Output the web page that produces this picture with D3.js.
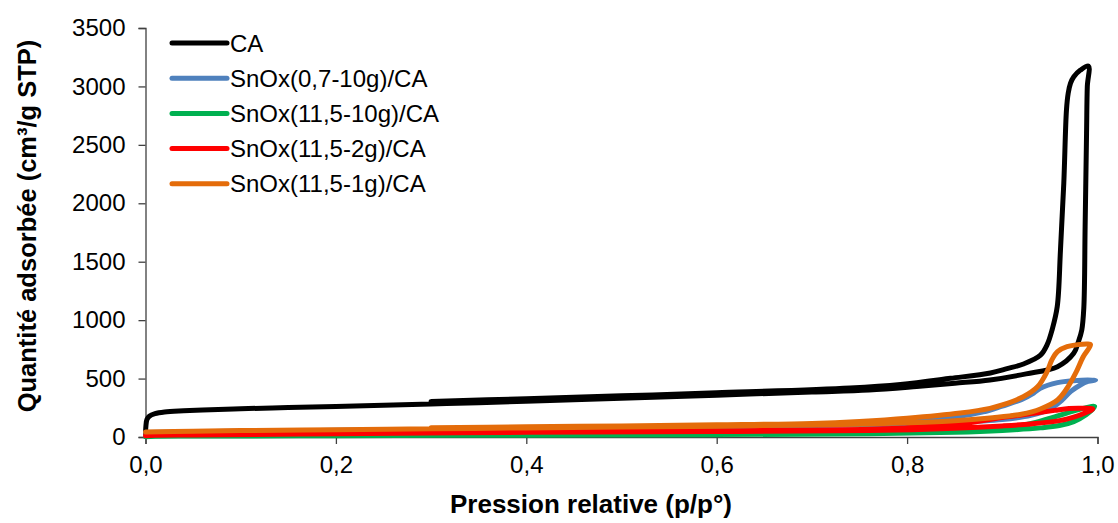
<!DOCTYPE html>
<html>
<head>
<meta charset="utf-8">
<script src="https://cdn.jsdelivr.net/npm/d3@7"></script>
<style>
  html, body { margin: 0; padding: 0; background: #fff; }
  svg { display: block; font-family: "Liberation Sans", Arial, sans-serif; }
</style>
</head>
<body>
<svg id="chart" width="1118" height="523"></svg>
<script>
// ---------- data ----------
const seriesNames = ["CA", "SnOx(0,7-10g)/CA", "SnOx(11,5-10g)/CA", "SnOx(11,5-2g)/CA", "SnOx(11,5-1g)/CA"];
const seriesColors = ["#000000", "#4F81BD", "#00B050", "#FF0000", "#E46C0A"];
const xTicks = [0, 0.2, 0.4, 0.6, 0.8, 1.0];
const yTicks = [0, 500, 1000, 1500, 2000, 2500, 3000, 3500];

// [p/p°, volume] — adsorption branch then desorption branch
const caAds = [[0,30],[0.0005,100],[0.0015,150],[0.004,178],[0.01,200],[0.02,214],[0.04,224],[0.06,231],[0.1,242],[0.15,252],[0.2,262],[0.25,272],[0.3,283],[0.35,294],[0.425,312],[0.5,332],[0.6,358],[0.7,385],[0.76,402],[0.81,432],[0.85,460],[0.887,488],[0.925,540],[0.958,602],[0.975,716],[0.98,816],[0.9835,916],[0.9856,1100],[0.987,1800],[0.9885,2600],[0.9893,3000],[0.9905,3175]];
const caDes = [[0.9905,3175],[0.9821,3140],[0.9751,3083],[0.9716,3026],[0.9692,2940],[0.9674,2798],[0.9646,2173],[0.9611,1600],[0.9577,1115],[0.9524,920],[0.9471,790],[0.9401,700],[0.9222,625],[0.905,585],[0.8875,548],[0.8455,502],[0.793,450],[0.74,420],[0.6,378],[0.5,352],[0.4,328],[0.3,303]];

const blueAds = [[0,38],[0.05,45],[0.2,57],[0.4,72],[0.6,88],[0.76,105],[0.85,125],[0.9,150],[0.93,185],[0.95,240],[0.962,310],[0.972,390],[0.982,445],[0.99,475],[0.998,488]];
const blueDes = [[0.998,488],[0.975,482],[0.958,465],[0.94,417],[0.933,376],[0.92,320],[0.9,265],[0.88,215],[0.85,170],[0.8,135],[0.75,115],[0.6,92],[0.45,78],[0.3,66]];

const greenAds = [[0,2],[0.01,6],[0.05,8],[0.2,11],[0.4,16],[0.6,20],[0.76,27],[0.85,40],[0.9,56],[0.94,78],[0.96,98],[0.975,132],[0.988,190],[0.997,262]];
const greenDes = [[0.997,262],[0.985,245],[0.97,210],[0.955,172],[0.935,125],[0.91,85],[0.88,60],[0.85,48],[0.76,32],[0.6,24],[0.45,19],[0.3,15]];

const redAds = [[0,10],[0.01,15],[0.05,18],[0.2,28],[0.4,40],[0.6,47],[0.76,55],[0.85,75],[0.9,95],[0.93,112],[0.96,140],[0.975,170],[0.988,210],[0.995,240]];
const redDes = [[0.995,240],[0.985,246],[0.97,244],[0.955,228],[0.935,205],[0.905,172],[0.88,140],[0.85,105],[0.8,80],[0.76,66],[0.6,54],[0.45,46],[0.3,36]];

const orangeAds = [[0,42],[0.05,50],[0.1,55],[0.2,62],[0.3,70],[0.4,78],[0.5,85],[0.6,93],[0.7,103],[0.76,112],[0.8,122],[0.85,140],[0.89,165],[0.92,195],[0.94,240],[0.958,317],[0.968,417],[0.977,546],[0.985,687],[0.9927,790]];
const orangeDes = [[0.9927,790],[0.9892,796],[0.968,773],[0.958,730],[0.952,659],[0.947,559],[0.937,430],[0.922,345],[0.9,274],[0.887,245],[0.856,205],[0.8,160],[0.75,133],[0.7,116],[0.6,104],[0.5,95],[0.4,87],[0.3,79]];

const seriesData = [
  caAds.concat(caDes.slice(1)),
  blueAds.concat(blueDes.slice(1)),
  greenAds.concat(greenDes.slice(1)),
  redAds.concat(redDes.slice(1)),
  orangeAds.concat(orangeDes.slice(1))
];

// ---------- layout ----------
const svg = d3.select("#chart");
const plot = { left: 145.5, right: 1097.5, top: 28, bottom: 437 };
const x = d3.scaleLinear().domain([0, 1]).range([plot.left, plot.right]);
const y = d3.scaleLinear().domain([0, 3500]).range([plot.bottom, plot.top]);
const fmtX = d => d3.format(".1f")(d).replace(".", ",");
const fmtY = d3.format("d");
const axisColor = "#404040";

// axes
const gx = svg.append("g").attr("transform", `translate(0,${plot.bottom})`)
  .call(d3.axisBottom(x).tickValues(xTicks).tickFormat(fmtX).tickSizeOuter(0).tickSize(7).tickPadding(12));
const gy = svg.append("g").attr("transform", `translate(${plot.left},0)`)
  .call(d3.axisLeft(y).tickValues(yTicks).tickFormat(fmtY).tickSizeOuter(0).tickSize(7).tickPadding(13));
[gx, gy].forEach(g => {
  g.select(".domain").attr("stroke", axisColor).attr("stroke-width", 1.3);
  g.selectAll(".tick line").attr("stroke", axisColor).attr("stroke-width", 1.3);
  g.selectAll(".tick text").attr("fill", "#000").style("font-size", "24px").style("font-family", "Liberation Sans, Arial, sans-serif");
});
gx.selectAll(".tick text").attr("dy", "0.71em");

// series
const line = d3.line().x(d => x(d[0])).y(d => y(d[1])).curve(d3.curveCatmullRom.alpha(0.5));
svg.append("g").selectAll("path").data(seriesData).join("path")
  .attr("d", d => line(d))
  .attr("fill", "none")
  .attr("stroke", (d, i) => seriesColors[i])
  .attr("stroke-width", 5)
  .attr("stroke-linejoin", "round")
  .attr("stroke-linecap", "round");

// axis titles
svg.append("text").attr("x", 591).attr("y", 513)
  .attr("text-anchor", "middle").style("font-size", "26px").style("font-weight", "bold")
  .text("Pression relative (p/p°)");
svg.append("text").attr("transform", `translate(36,226) rotate(-90)`)
  .attr("text-anchor", "middle").style("font-size", "25.5px").style("font-weight", "bold")
  .text("Quantité adsorbée (cm³/g STP)");

// legend
const legend = svg.append("g");
seriesNames.forEach((name, i) => {
  const ly = 43 + i * 35.2;
  legend.append("line").attr("x1", 172).attr("x2", 227).attr("y1", ly).attr("y2", ly)
    .attr("stroke", seriesColors[i]).attr("stroke-width", 5).attr("stroke-linecap", "round");
  legend.append("text").attr("x", 230).attr("y", ly + 8.5).style("font-size", "24px").attr("fill", "#000").text(name);
});
</script>
</body>
</html>
